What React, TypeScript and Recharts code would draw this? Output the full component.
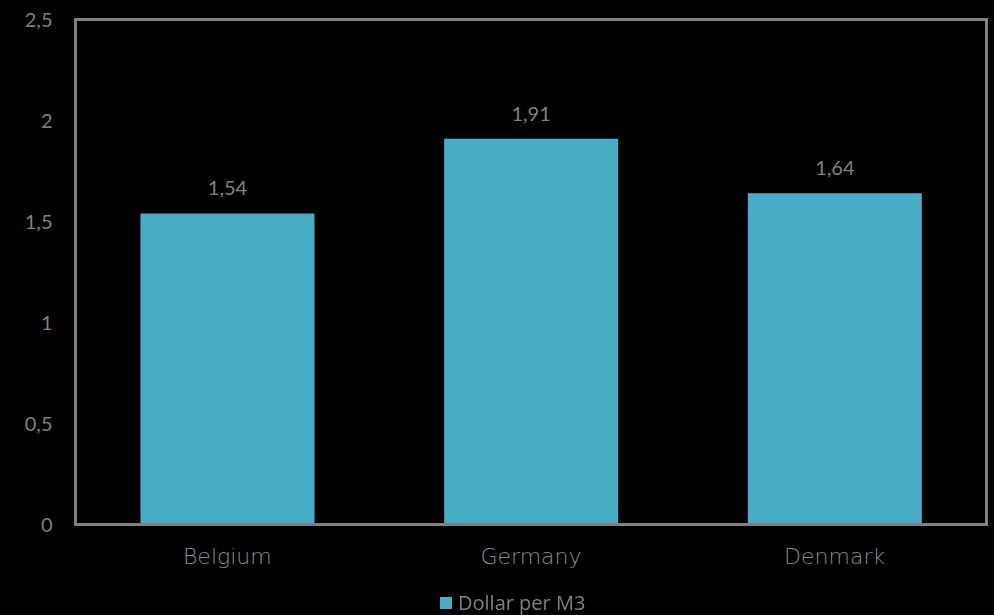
import React from 'react';
import {
  BarChart,
  Bar,
  XAxis,
  YAxis,
  LabelList,
  Legend,
  ReferenceArea,
} from 'recharts';

// Datos del gráfico
const countries = ['Belgium', 'Germany', 'Denmark'];
const dollarPerM3 = [1.54, 1.91, 1.64];
const yTicks = [0, 0.5, 1, 1.5, 2, 2.5];

const data = countries.map((country, i) => ({
  country,
  value: dollarPerM3[i],
}));

const BAR_COLOR = '#4BACC6';
const GRAY = '#808080';
const NUM_FONT = 'Lato, "Open Sans", sans-serif';

const comma = (v: any) => String(v).replace('.', ',');

// Leyenda personalizada
const renderLegend = () => (
  <div style={{ display: 'flex', alignItems: 'center', fontFamily: '"Open Sans", sans-serif', fontSize: 20, color: GRAY, whiteSpace: 'nowrap' }}>
    <span style={{ display: 'inline-block', width: 12, height: 12, background: BAR_COLOR, marginRight: 6 }} />
    <span>Dollar per M3</span>
  </div>
);

export default function App() {
  return (
    <div style={{ position: 'fixed', left: 0, top: 0, width: 994, height: 615, background: '#000' }}>
      <BarChart
        width={994}
        height={615}
        data={data}
        margin={{ top: 19.5, right: 7.5, left: 0, bottom: 0 }}
        barCategoryGap="21.4%"
      >
        <XAxis
          dataKey="country"
          height={62.5}
          tickLine={false}
          tickSize={0}
          tickMargin={24}
          axisLine={{ stroke: GRAY, strokeWidth: 3 }}
          tick={{ fill: '#8c8c8c', fontSize: 22, fontFamily: '"DejaVu Sans", sans-serif', fontWeight: 200 }}
        />
        <YAxis
          width={75.5}
          domain={[0, 2.5]}
          ticks={yTicks}
          tickFormatter={comma}
          tickLine={false}
          tickSize={0}
          tickMargin={23}
          axisLine={{ stroke: GRAY, strokeWidth: 3 }}
          tick={{ fill: GRAY, fontSize: 20, fontFamily: NUM_FONT }}
        />
        <ReferenceArea y1={0} y2={2.5} fill="none" stroke={GRAY} strokeWidth={3} />
        <Bar dataKey="value" name="Dollar per M3" fill={BAR_COLOR} isAnimationActive={false}>
          <LabelList
            dataKey="value"
            position="top"
            offset={18}
            formatter={comma}
            fill={GRAY}
            fontSize={20}
            fontFamily={NUM_FONT}
          />
        </Bar>
        <Legend
          verticalAlign="bottom"
          height={30}
          content={renderLegend}
          wrapperStyle={{ left: 440, top: 589, width: 220, height: 28 }}
        />
      </BarChart>
    </div>
  );
}
